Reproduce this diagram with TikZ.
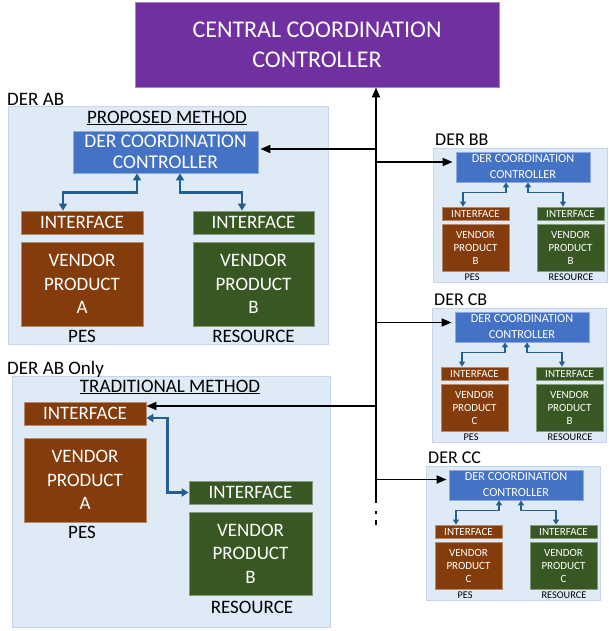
\documentclass[tikz,border=0pt]{standalone}
\usepackage{fontspec}
\setmainfont{Carlito}
\usetikzlibrary{arrows.meta}

\definecolor{ccpurple}{HTML}{7030A0}
\definecolor{ctrlblue}{HTML}{4472C4}
\definecolor{pesbrown}{HTML}{843C0C}
\definecolor{resgreen}{HTML}{385723}
\definecolor{grpfill}{HTML}{DEEBF7}
\definecolor{grpedge}{HTML}{C6D6E8}
\definecolor{linkblue}{HTML}{255E91}

\newcommand\fsHuge{\fontsize{24}{30}\selectfont}
\newcommand\fsBig{\fontsize{19.5}{21}\selectfont}
\newcommand\fsMed{\fontsize{19}{23.5}\selectfont}
\newcommand\fsGrp{\fontsize{18}{20}\selectfont}
\newcommand\fsSmall{\fontsize{12.3}{16}\selectfont}
\newcommand\fsTiny{\fontsize{11}{13}\selectfont}
\newcommand\fsLabel{\fontsize{10.3}{12}\selectfont}

\tikzset{
  grp/.style={fill=grpfill, draw=grpedge, line width=0.8pt},
  box/.style={inner sep=0pt, text=white, align=center, line width=0.8pt, anchor=center},
  ccbox/.style={box, fill=ccpurple, draw=ccpurple!60!white},
  ctrlbox/.style={box, fill=ctrlblue, draw=ctrlblue!60!white},
  pesbox/.style={box, fill=pesbrown, draw=pesbrown!60!white},
  resbox/.style={box, fill=resgreen, draw=resgreen!60!white},
  lbl/.style={inner sep=0pt, text=black, anchor=center},
  grplbl/.style={inner sep=0pt, text=black, anchor=west},
  feed/.style={line width=1.8pt, black, -{Triangle[length=10pt,width=8pt]}},
  link/.style={line width=2.4pt, linkblue, {Triangle[length=7pt,width=8pt]}-{Triangle[length=7pt,width=8pt]}},
  linksm/.style={line width=1.5pt, linkblue, {Triangle[length=5pt,width=6pt]}-{Triangle[length=5pt,width=6pt]}},
}

\begin{document}
\begin{tikzpicture}[x=1pt,y=-1pt]
\useasboundingbox[fill=white] (0,0) rectangle (608,631);

% ---------- central controller ----------
\node[ccbox, font=\fsHuge, minimum width=364pt, minimum height=85pt] (cc) at (317,44.5)
  {CENTRAL COORDINATION\\ CONTROLLER};

% ---------- DER AB, proposed method ----------
\draw[grp] (8,106) rectangle (328,344);
\node[grplbl, font=\fsMed] (labAB) at (7,99) {DER AB};
\node[lbl, font=\fsMed] (titAB) at (167,118) {\underline{PROPOSED METHOD}};
\node[ctrlbox, font=\fsBig, minimum width=185pt, minimum height=42pt] (ctrlAB) at (165.5,152)
  {DER COORDINATION\\ CONTROLLER};
\node[pesbox, font=\fsMed, minimum width=122pt, minimum height=23pt] (ifA) at (82,222.5) {INTERFACE};
\node[resbox, font=\fsMed, minimum width=121pt, minimum height=23pt] (ifB) at (253.5,222.5) {INTERFACE};
\node[pesbox, font=\fsMed, minimum width=122pt, minimum height=84pt] (vpA) at (82,284) {VENDOR\\ PRODUCT\\ A};
\node[resbox, font=\fsMed, minimum width=121pt, minimum height=84pt] (vpB) at (253.5,284) {VENDOR\\ PRODUCT\\ B};
\node[lbl, font=\fsMed] (pesAB) at (82,336) {PES};
\node[lbl, font=\fsMed] (resAB) at (253.5,336) {RESOURCE};
\draw[link] ([xshift=-28.5pt]ctrlAB.south) -- ++(0,19) -| ([xshift=-19pt]ifA.north);
\draw[link] ([xshift=14.5pt]ctrlAB.south) -- ++(0,19) -| ([xshift=-11.5pt]ifB.north);

% ---------- DER AB only, traditional method ----------
\draw[grp] (12,376) rectangle (330,627);
\node[grplbl, font=\fsMed] (labTr) at (7,369) {DER AB Only};
\node[lbl, font=\fsMed] (titTr) at (170,387) {\underline{TRADITIONAL METHOD}};
\node[pesbox, font=\fsMed, minimum width=122pt, minimum height=23pt] (ifTA) at (85,413.5) {INTERFACE};
\node[pesbox, font=\fsMed, minimum width=122pt, minimum height=84pt] (vpTA) at (85,480) {VENDOR\\ PRODUCT\\ A};
\node[lbl, font=\fsMed] (pesTr) at (82,532) {PES};
\node[resbox, font=\fsMed, minimum width=123pt, minimum height=23pt] (ifTB) at (250.5,492.5) {INTERFACE};
\node[resbox, font=\fsMed, minimum width=123pt, minimum height=83pt] (vpTB) at (250.5,553.5) {VENDOR\\ PRODUCT\\ B};
\node[lbl, font=\fsMed] (resTr) at (252,607) {RESOURCE};
\draw[link] ([yshift=-4.5pt]ifTA.east) -- ++(21,0) |- (ifTB.west);

% ---------- small DER groups ----------
% #1 name, #2 label, #3 x shift, #4 y shift, #5 PES letter, #6 resource letter
\newcommand\smallder[6]{%
  \begin{scope}[shift={(#3,#4)}]
    \draw[grp] (433,148) rectangle (607,282);
    \node[grplbl, font=\fsGrp] (lab#1) at (435,140) {#2};
    \node[ctrlbox, font=\fsSmall, minimum width=134pt, minimum height=30pt] (ctrl#1) at (523,167)
      {DER COORDINATION\\ CONTROLLER};
    \node[pesbox, font=\fsTiny, minimum width=67pt, minimum height=13pt] (ifp#1) at (475.5,213.5) {INTERFACE};
    \node[resbox, font=\fsTiny, minimum width=67pt, minimum height=13pt] (ifr#1) at (570.5,213.5) {INTERFACE};
    \node[pesbox, font=\fsTiny, minimum width=67pt, minimum height=47pt] (vpp#1) at (475.5,247.5) {VENDOR\\ PRODUCT\\ #5};
    \node[resbox, font=\fsTiny, minimum width=67pt, minimum height=47pt] (vpr#1) at (570.5,247.5) {VENDOR\\ PRODUCT\\ #6};
    \node[lbl, font=\fsLabel] (pes#1) at (472,277) {PES};
    \node[lbl, font=\fsLabel] (res#1) at (571,277) {RESOURCE};
    \draw[linksm] ([xshift=-17pt]ctrl#1.south) -- ++(0,10) -| ([xshift=-12.5pt]ifp#1.north);
    \draw[linksm] ([xshift=5pt]ctrl#1.south) -- ++(0,10) -| ([xshift=-7.5pt]ifr#1.north);
  \end{scope}}

\smallder{BB}{DER BB}{0}{0}{B}{B}
\smallder{CB}{DER CB}{-1}{160}{C}{B}
\smallder{CC}{DER CC}{-7}{318}{C}{C}

% ---------- backbone from the DER groups to the central controller ----------
\coordinate (trunk) at (376,503);
\coordinate (inAB) at ([yshift=3pt,xshift=2pt]ctrlAB.east);
\coordinate (inBB) at ([yshift=5pt,xshift=-3pt]ctrlBB.west);
\coordinate (inCB) at ([yshift=4.5pt,xshift=-3pt]ctrlCB.west);
\coordinate (inTr) at ([yshift=7.5pt]ifTA.east);
\coordinate (inCC) at ([yshift=5.5pt,xshift=-2pt]ctrlCC.west);
\draw[feed] (trunk) -- (trunk |- cc.south);
\draw[line width=1.8pt, dash pattern=on 3pt off 6pt on 5pt off 10pt] ([yshift=-8pt]trunk) -- ++(0,20);
\draw[feed] (trunk |- inAB) -- (inAB);
\draw[feed] (trunk |- inBB) -- (inBB);
\draw[feed] (trunk |- inCB) -- (inCB);
\draw[feed] (trunk |- inTr) -- (inTr);
\draw[feed] (trunk |- inCC) -- (inCC);
\end{tikzpicture}
\end{document}
